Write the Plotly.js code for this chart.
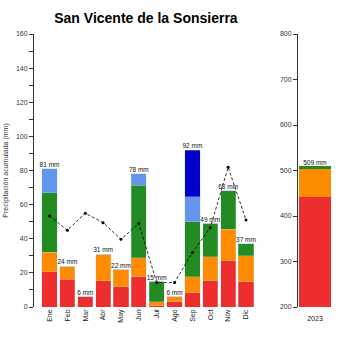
<!DOCTYPE html>
<html><head><meta charset="utf-8">
<script src="https://cdn.plot.ly/plotly-3.0.1.min.js"></script>
<style>body{margin:0;background:#fff}#c{width:350px;height:350px}</style>
</head><body><div id="c"></div>
<script>
const months = ["Ene","Feb","Mar","Abr","May","Jun","Jul","Ago","Sep","Oct","Nov","Dic"];
const red    = [20.7,16.4,6,15.4,12,17.8,0.8,3.1,8.4,15.4,27,14.7];
const orange = [11.5,7.6,0,15.1,10,11.1,2.2,2.9,9.4,14.1,18.5,15.3];
const green  = [34.8,0,0,0.5,0,42.6,12,0,32.2,19.5,22.5,7];
const cblue  = [14,0,0,0,0,6.5,0,0,14.6,0,0,0];
const dblue  = [0,0,0,0,0,0,0,0,27.4,0,0,0];
const meanLine = [53.3,45,55,49.4,39.7,49,14.3,14.3,32,46.5,81.9,51];
const yearCat = ["2023"];
const yearRed = [442];
const yearOrange = [61.5];
const yearGreen = [5.5];
const yearLabel = ["509 mm"];

const totals = months.map((m,i)=>Math.round(red[i]+orange[i]+green[i]+cblue[i]+dblue[i]));
const yTotal = [yearRed[0]+yearOrange[0]+yearGreen[0]];
const cRed='#EE2E2E', cOr='#FF8C00', cGr='#228B22', cCb='#6495ED', cDb='#0000CD';
const line={color:'rgba(200,215,240,0.6)',width:0.5};
const bw=0.85;
const lf={size:6.5,color:'#111',family:'Liberation Sans, Arial'};
const traces=[
 {type:'bar',x:months,y:red,marker:{color:cRed,line},width:bw},
 {type:'bar',x:months,y:orange,marker:{color:cOr,line},width:bw},
 {type:'bar',x:months,y:green,marker:{color:cGr,line},width:bw},
 {type:'bar',x:months,y:cblue,marker:{color:cCb,line},width:bw},
 {type:'bar',x:months,y:dblue,marker:{color:cDb,line},width:bw},
 {type:'scatter',mode:'lines+markers',x:months,y:meanLine,line:{color:'#000',width:0.8,dash:'3px,2px'},marker:{color:'#000',size:3}},
 {type:'scatter',mode:'text',x:months,y:totals,text:totals.map(v=>v+' mm'),textposition:'top center',textfont:lf,cliponaxis:false},
 {type:'bar',x:yearCat,y:yearRed,marker:{color:cRed},width:0.95,xaxis:'x2',yaxis:'y2'},
 {type:'bar',x:yearCat,y:yearOrange,marker:{color:cOr},width:0.95,xaxis:'x2',yaxis:'y2'},
 {type:'bar',x:yearCat,y:yearGreen,marker:{color:cGr},width:0.95,xaxis:'x2',yaxis:'y2'},
 {type:'scatter',mode:'text',x:yearCat,y:yTotal,text:yearLabel,textposition:'top center',textfont:lf,xaxis:'x2',yaxis:'y2',cliponaxis:false}
];
const tf={size:7,color:'#333',family:'Liberation Sans, Arial'};
const layout={
 width:350,height:350,showlegend:false,barmode:'stack',bargap:0.15,
 paper_bgcolor:'#fff',plot_bgcolor:'#fff',
 margin:{l:0,r:0,t:34,b:43},
 title:{text:'<b>San Vicente de la Sonsierra</b>',x:0.417,xanchor:'center',y:0.948,yanchor:'middle',font:{size:14,color:'#000',family:'Liberation Sans, Arial'}},
 xaxis:{domain:[34/350,256/350],range:[-0.87,11.56],showgrid:false,zeroline:false,showline:false,ticks:'',tickangle:-90,tickfont:{size:7,color:'#222',family:'Liberation Sans, Arial'}},
 yaxis:{range:[0,160],showgrid:false,zeroline:false,showline:true,linecolor:'#333',linewidth:1,ticks:'outside',ticklen:4,tickcolor:'#333',dtick:20,tickfont:tf,
   minor:{dtick:10,ticks:'outside',ticklen:4,tickcolor:'#333'},
   title:{text:'Precipitación acumulada (mm)',font:{size:7,color:'#333',family:'Liberation Sans, Arial'},standoff:6}},
 xaxis2:{type:'category',domain:[298/350,332/350],anchor:'y2',range:[-0.5,0.5],showgrid:false,zeroline:false,showline:false,ticks:'',tickangle:0,ticklabelstandoff:6,tickfont:{size:7,color:'#222',family:'Liberation Sans, Arial'}},
 yaxis2:{anchor:'x2',range:[200,800],showgrid:false,zeroline:false,showline:true,linecolor:'#333',linewidth:1,ticks:'outside',ticklen:4,tickcolor:'#333',dtick:100,tickfont:tf}
};
Plotly.newPlot('c',traces,layout,{staticPlot:true});
</script></body></html>
